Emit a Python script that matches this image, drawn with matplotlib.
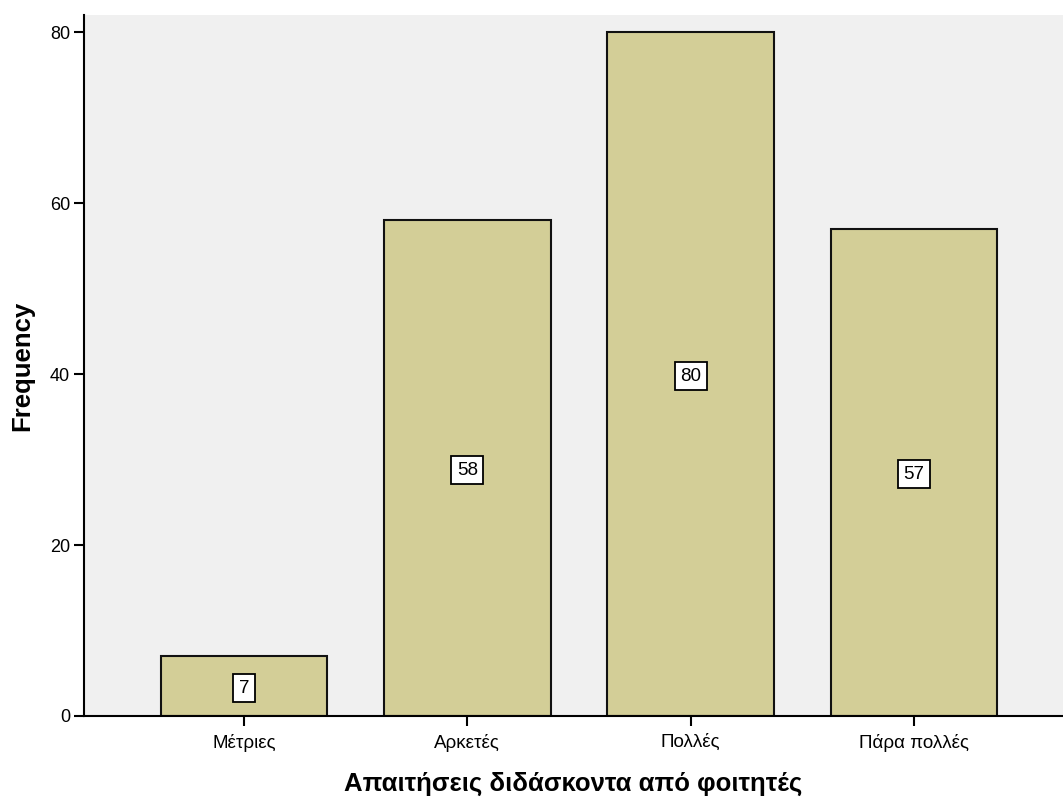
import matplotlib
matplotlib.use("Agg")
import matplotlib.pyplot as plt

categories = ["Μέτριες", "Αρκετές", "Πολλές", "Πάρα πολλές"]
counts = [7, 58, 80, 57]
yticks = [0, 20, 40, 60, 80]

plt.rcParams['font.family'] = ['Liberation Sans', 'DejaVu Sans']

fig = plt.figure(figsize=(10.63, 7.98), dpi=100)
ax = fig.add_axes([84/1063, 82/798, 1 - 84/1063, (716-15)/798])
ax.set_facecolor('#F0F0F0')

x = list(range(len(categories)))
ax.bar(x, counts, width=0.747, color='#D3CE97', edgecolor='#111111', linewidth=1.5, zorder=2)
for xi, c in zip(x, counts):
    ax.text(xi, c / 2, str(c), ha='center', va='center_baseline', fontsize=13.5,
            bbox=dict(boxstyle='square,pad=0.3', facecolor='white', edgecolor='black', linewidth=1.3),
            zorder=3)

ax.set_xlim(-0.716, 3.667)
ax.set_ylim(0, 82)
ax.set_xticks(x)
ax.set_xticklabels(categories, fontsize=13.5)
ax.set_yticks(yticks)
ax.set_yticklabels([str(t) for t in yticks], fontsize=13)
ax.tick_params(axis='both', direction='out', length=7, width=1.5, color='black')
ax.tick_params(axis='x', pad=6)
ax.tick_params(axis='y', pad=3)
for s in ['top', 'right']:
    ax.spines[s].set_visible(False)
ax.spines['left'].set_linewidth(1.5)
ax.spines['bottom'].set_linewidth(1.5)

ax.set_xlabel("Απαιτήσεις διδάσκοντα από φοιτητές", fontsize=18.5, fontweight='bold', labelpad=14)
ax.set_ylabel("Frequency", fontsize=18.5, fontweight='bold', labelpad=11)

fig.savefig("out.png", dpi=100)
